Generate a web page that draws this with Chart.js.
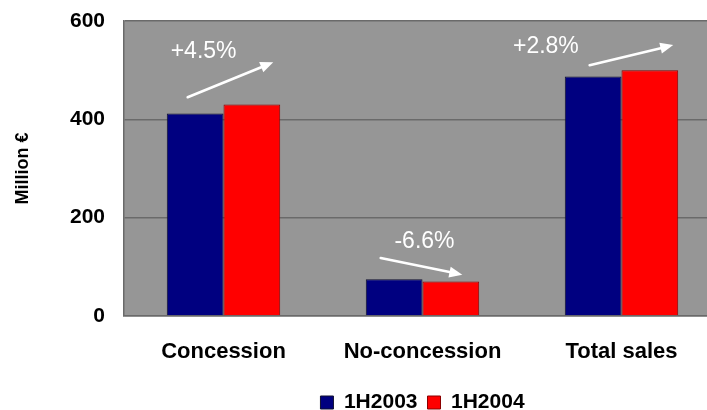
<!DOCTYPE html>
<html>
<head>
<meta charset="utf-8">
<script src="https://cdn.jsdelivr.net/npm/chart.js@4/dist/chart.umd.min.js"></script>
<style>
  html, body { margin: 0; padding: 0; width: 707px; height: 410px; overflow: hidden; background: #ffffff; }
  #wrap { position: relative; width: 721px; height: 423px; }
  canvas { display: block; }
</style>
</head>
<body>
<div id="wrap"><canvas id="chart" width="721" height="423"></canvas></div>
<script>
// Sales by segment, first half of the year (million euro)
const categories = ['Concession', 'No-concession', 'Total sales'];
const sales2003 = [412, 75, 487];
const sales2004 = [430, 70, 500];
const seriesNames = ['1H2003', '1H2004'];
const yTicks = [0, 200, 400, 600];
const changeLabels = ['+4.5%', '-6.6%', '+2.8%'];

const FONT = "'Liberation Sans', Arial, Helvetica, sans-serif";

// Grey plot-area fill behind grid and bars
const plotBackground = {
  id: 'plotBackground',
  beforeDraw(chart, args, opts) {
    const { ctx, chartArea: a } = chart;
    ctx.save();
    ctx.fillStyle = opts.color;
    ctx.fillRect(a.left, a.top, a.right - a.left, a.bottom - a.top);
    ctx.restore();
  }
};

// Growth labels with arrows, placed in category / value units
const growthArrows = {
  id: 'growthArrows',
  afterDatasetsDraw(chart, args, opts) {
    const { ctx } = chart;
    const xs = chart.scales.x, ys = chart.scales.y;
    const px = (c) => xs.getPixelForValue(c);
    const py = (v) => ys.getPixelForValue(v);
    ctx.save();
    ctx.fillStyle = opts.color;
    ctx.strokeStyle = opts.color;
    ctx.font = opts.font;
    ctx.textAlign = 'center';
    ctx.textBaseline = 'middle';
    opts.items.forEach((it, i) => {
      ctx.fillText(changeLabels[i], px(it.text[0]), py(it.text[1]));
      const x1 = px(it.from[0]), y1 = py(it.from[1]);
      const x2 = px(it.to[0]), y2 = py(it.to[1]);
      const ang = Math.atan2(y2 - y1, x2 - x1);
      const head = 13, half = 5.5;
      const bx = x2 - head * Math.cos(ang), by = y2 - head * Math.sin(ang);
      ctx.lineWidth = 2.6;
      ctx.lineCap = 'round';
      ctx.beginPath();
      ctx.moveTo(x1, y1);
      ctx.lineTo(bx, by);
      ctx.stroke();
      ctx.beginPath();
      ctx.moveTo(x2, y2);
      ctx.lineTo(bx + half * Math.sin(ang), by - half * Math.cos(ang));
      ctx.lineTo(bx - half * Math.sin(ang), by + half * Math.cos(ang));
      ctx.closePath();
      ctx.fill();
    });
    ctx.restore();
  }
};

new Chart(document.getElementById('chart'), {
  type: 'bar',
  data: {
    labels: categories,
    datasets: [
      { label: seriesNames[0], data: sales2003, backgroundColor: '#000080', borderColor: '#101030', borderWidth: 1 },
      { label: seriesNames[1], data: sales2004, backgroundColor: '#ff0000', borderColor: '#8a0000', borderWidth: 1 }
    ]
  },
  options: {
    responsive: false,
    animation: false,
    events: [],
    layout: { padding: { top: 21, right: 0, bottom: 0, left: 0 } },
    datasets: { bar: { categoryPercentage: 0.57, barPercentage: 1.0, borderSkipped: 'start' } },
    scales: {
      x: {
        grid: { display: false, drawTicks: false },
        border: { display: true, color: '#6a6a6a', width: 1.5 },
        ticks: { color: '#000', padding: 23, font: { family: FONT, size: 22, weight: 'bold' } },
        afterFit(scale) { scale.height = 66; }
      },
      y: {
        min: yTicks[0],
        max: yTicks[yTicks.length - 1],
        ticks: {
          stepSize: yTicks[1] - yTicks[0],
          color: '#000',
          padding: 19,
          font: { family: FONT, size: 21, weight: 'bold' }
        },
        grid: { color: '#6a6a6a', lineWidth: 1.5, drawTicks: false },
        border: { display: true, color: '#6a6a6a', width: 1.5 },
        title: {
          display: true,
          text: 'Million €',
          color: '#000',
          padding: { top: 12, bottom: 0 },
          font: { family: FONT, size: 18, weight: 'bold' }
        },
        afterFit(scale) {
          scale.width = 124;
          // only half a label height is needed above the top tick
          scale.paddingTop = 12;
          scale.paddingBottom = 12;
        }
      }
    },
    plugins: {
      legend: {
        position: 'bottom',
        fullSize: false,
        labels: {
          color: '#000',
          boxWidth: 13,
          boxHeight: 13,
          padding: 10,
          font: { family: FONT, size: 21, weight: 'bold' }
        }
      },
      tooltip: { enabled: false },
      plotBackground: { color: '#969696' },
      growthArrows: {
        color: '#ffffff',
        font: "23px " + FONT,
        items: [
          { text: [-0.10, 537], from: [-0.18, 445], to: [0.25, 516] },
          { text: [1.01, 151], from: [0.79, 118], to: [1.20, 84] },
          { text: [1.62, 547], from: [1.84, 510], to: [2.26, 551] }
        ]
      }
    }
  },
  plugins: [plotBackground, growthArrows]
});
</script>
</body>
</html>
